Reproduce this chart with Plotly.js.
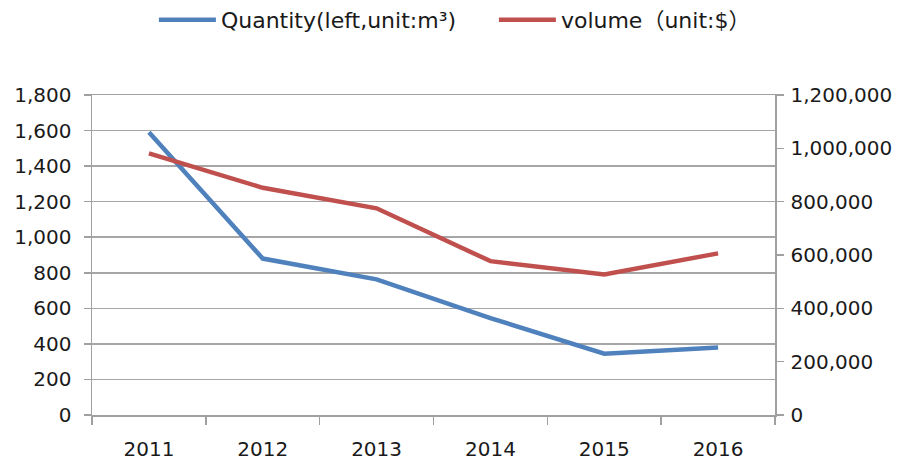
<!DOCTYPE html>
<html>
<head>
<meta charset="utf-8">
<script src="https://cdn.plot.ly/plotly-3.0.1.min.js"></script>
<style>html,body{margin:0;padding:0;background:#fff;}#chart{width:900px;height:461px;}</style>
</head>
<body>
<div id="chart"></div>
<script>
const years = ["2011", "2012", "2013", "2014", "2015", "2016"];
const quantity = [1590, 880, 763, 545, 345, 380];
const volume = [981000, 852000, 775000, 577000, 527000, 606000];
const quantityName = "Quantity(left,unit:m³)";
const volumeName = "volume（unit:$）";

const font = "DejaVu Sans, Noto Sans CJK SC, sans-serif";
const traces = [
  {x: years, y: quantity, name: quantityName, type: "scatter", mode: "lines",
   line: {color: "#4f81bd", width: 4.5}, yaxis: "y"},
  {x: years, y: volume, name: volumeName, type: "scatter", mode: "lines",
   line: {color: "#c0504d", width: 4.5}, yaxis: "y2"}
];
const layout = {
  width: 900, height: 461,
  margin: {l: 92, r: 125, t: 95, b: 46, autoexpand: false},
  paper_bgcolor: "#fff", plot_bgcolor: "#fff",
  font: {family: font, size: 20, color: "#1a1a1a"},
  showlegend: true,
  legend: {orientation: "h", xref: "container", yref: "container", x: 0.171, xanchor: "left",
           y: 1 - 20 / 461, yanchor: "middle", entrywidth: 268, entrywidthmode: "pixels",
           font: {family: font, size: 22, color: "#1a1a1a"}, itemwidth: 57, traceorder: "normal"},
  xaxis: {type: "category", range: [-0.5, 5.5], showline: true, linecolor: "#a0a0a0", linewidth: 1.5,
          mirror: true,
          ticks: "outside", tickson: "boundaries", ticklen: 8, tickcolor: "#a0a0a0", tickwidth: 1.5,
          ticklabelstandoff: 15,
          showgrid: false, zeroline: false, tickfont: {size: 20}},
  yaxis: {range: [0, 1800], dtick: 200, tickformat: ",d", showline: true, linecolor: "#a0a0a0", linewidth: 1.5,
          ticks: "outside", ticklen: 7, tickcolor: "#a0a0a0", tickwidth: 1.5, ticklabelstandoff: 8,
          gridcolor: "#a6a6a6", gridwidth: 1.5, zeroline: false, tickfont: {size: 20}},
  yaxis2: {range: [0, 1200000], dtick: 200000, tickformat: ",d", overlaying: "y", side: "right",
           showline: true, linecolor: "#a0a0a0", linewidth: 1.5, ticks: "outside", ticklen: 7,
           tickcolor: "#a0a0a0", tickwidth: 1.5, ticklabelstandoff: 3,
           showgrid: false, zeroline: false, tickfont: {size: 20}}
};
Plotly.newPlot("chart", traces, layout, {staticPlot: true, displayModeBar: false});
</script>
</body>
</html>
